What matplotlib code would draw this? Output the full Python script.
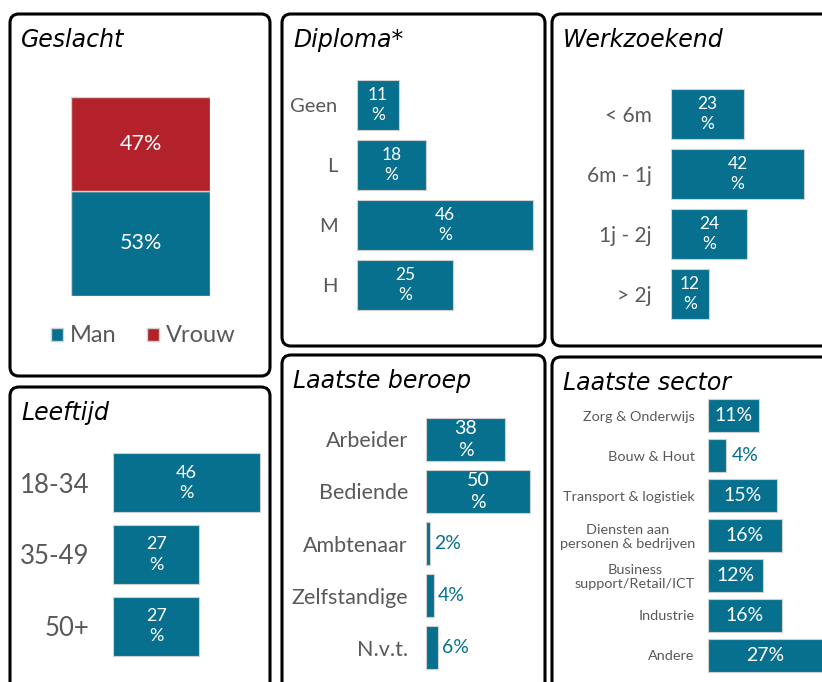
import matplotlib
matplotlib.use("Agg")
import matplotlib.pyplot as plt
from matplotlib.patches import FancyBboxPatch, Rectangle

# ---- data ----
gender_labels = ["Man", "Vrouw"]
gender_values = [53, 47]

diploma_labels = ["Geen", "L", "M", "H"]
diploma_values = [11, 18, 46, 25]

zoek_labels = ["< 6m", "6m - 1j", "1j - 2j", "> 2j"]
zoek_values = [23, 42, 24, 12]

age_labels = ["18-34", "35-49", "50+"]
age_values = [46, 27, 27]

beroep_labels = ["Arbeider", "Bediende", "Ambtenaar", "Zelfstandige", "N.v.t."]
beroep_values = [38, 50, 2, 4, 6]

sector_labels = [
    "Zorg & Onderwijs",
    "Bouw & Hout",
    "Transport & logistiek",
    "Diensten aan\npersonen & bedrijven",
    "Business\nsupport/Retail/ICT",
    "Industrie",
    "Andere",
]
sector_values = [11, 4, 15, 16, 12, 16, 27]

TEAL = "#07708f"
RED = "#b3222a"
GRAY = "#595959"
EDGE = "#d0d0d0"

W, H = 822, 682
plt.rcParams["font.family"] = ["Lato", "DejaVu Sans"]

fig = plt.figure(figsize=(W / 100, H / 100), dpi=100)

# background axes in pixel units for boxes and titles
bg = fig.add_axes([0, 0, 1, 1])
bg.set_xlim(0, W)
bg.set_ylim(H, 0)
bg.axis("off")

boxes = [
    (10, 14, 270, 376, "Geslacht"),
    (282, 14, 545, 346, "Diploma*"),
    (552, 14, 840, 346, "Werkzoekend"),
    (10, 387, 270, 700, "Leeftijd"),
    (282, 355, 545, 700, "Laatste beroep"),
    (552, 357, 840, 700, "Laatste sector"),
]
for x0, y0, x1, y1, title in boxes:
    bg.add_patch(FancyBboxPatch((x0, y0), x1 - x0, y1 - y0,
                                boxstyle="round,pad=0,rounding_size=9",
                                fc="white", ec="black", lw=2.2))
    bg.text(x0 + 11, y0 + 26, title, fontsize=17, style="italic",
            family="DejaVu Sans", color="black", va="center", ha="left")


def px_axes(x0, y0, x1, y1):
    ax = fig.add_axes([x0 / W, 1 - y1 / H, (x1 - x0) / W, (y1 - y0) / H])
    ax.patch.set_alpha(0)
    for s in ax.spines.values():
        s.set_visible(False)
    ax.set_xticks([])
    return ax


def hbar_panel(rect, labels, values, xmax, height, label_size, pad,
               value_size, inside_min, two_line, out_off):
    ax = px_axes(*rect)
    n = len(labels)
    ys = list(range(n))
    ax.barh(ys, values, height=height, color=TEAL, edgecolor=EDGE, linewidth=0.8)
    ax.set_xlim(0, xmax)
    ax.set_ylim(n - 0.5, -0.5)
    ax.set_yticks(ys)
    ax.set_yticklabels(labels, fontsize=label_size, color=GRAY)
    ax.tick_params(axis="y", length=0, pad=pad)
    for lab in ax.get_yticklabels():
        lab.set_multialignment("center")
        lab.set_linespacing(1.15)
    for y, v in zip(ys, values):
        if v >= inside_min:
            txt = f"{v}\n%" if two_line else f"{v}%"
            ax.text(min(v, xmax) / 2, y, txt, ha="center", va="center",
                    color="white", fontsize=value_size, linespacing=1.35)
        else:
            ax.text(v + out_off, y, f"{v}%", ha="left", va="center",
                    color=TEAL, fontsize=value_size, clip_on=False)
    return ax


# Geslacht - stacked column
ax = px_axes(71, 97, 210, 296)
ax.set_yticks([])
bottom = 0
for lab, v, c in zip(gender_labels, gender_values, [TEAL, RED]):
    ax.bar(0, v, bottom=bottom, width=1, color=c, edgecolor=EDGE, linewidth=1)
    ax.text(0, bottom + v / 2, f"{v}%", ha="center", va="center",
            color="white", fontsize=15.5)
    bottom += v
ax.set_xlim(-0.5, 0.5)
ax.set_ylim(0, 100)

# legend
for (lx, tx, lab, c) in [(51, 70, gender_labels[0], TEAL), (147, 166, gender_labels[1], RED)]:
    bg.add_patch(Rectangle((lx, 328), 12, 13, fc=c, ec=EDGE, lw=1))
    bg.text(tx, 335, lab, fontsize=17, color=GRAY, va="center", ha="left")

# Diploma
hbar_panel((357, 75, 545, 315), diploma_labels, diploma_values, 188 / 3.83,
           0.83, 14.5, 14, 12.5, 8, True, 1)

# Werkzoekend
hbar_panel((671, 84, 822, 324), zoek_labels, zoek_values, 151 / 3.16,
           0.83, 15, 14, 12.5, 8, True, 1)

# Leeftijd
hbar_panel((113, 447, 270, 662), age_labels, age_values, 157 / 3.2,
           0.82, 18.5, 17, 13, 8, True, 1)

# Laatste beroep
hbar_panel((426, 413, 545, 674), beroep_labels, beroep_values, 119 / 2.08,
           0.82, 15.5, 13, 14, 10, True, 1.8)

# Laatste sector
hbar_panel((708, 396, 822, 675), sector_labels, sector_values, 114 / 4.6,
           0.83, 10.4, 9.5, 14, 8, False, 1.2)

fig.savefig("out.png", dpi=100)
